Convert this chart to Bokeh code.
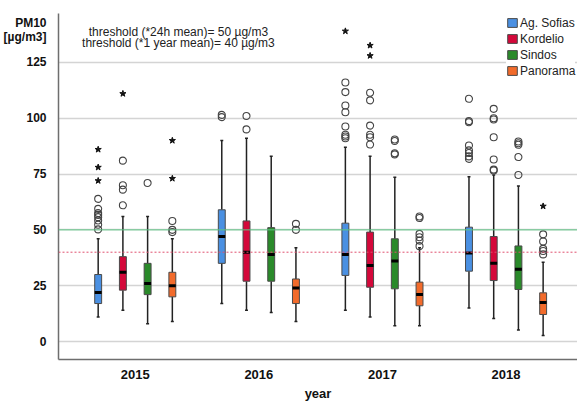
from bokeh.plotting import figure
from bokeh.models import Span, Label, Legend, LegendItem, FixedTicker, ColumnDataSource
from bokeh.embed import file_html
from bokeh.resources import INLINE

years = ["2015", "2016", "2017", "2018"]
stations = ["Ag. Sofias", "Kordelio", "Sindos", "Panorama"]
colors = ["#4a90e2", "#d4083a", "#2a8a2a", "#f26b2b"]

whisker_low = {
    "Ag. Sofias": [11, 17, 14, 15],
    "Kordelio": [14, 14, 11, 10.3],
    "Sindos": [8, 13, 7, 5.2],
    "Panorama": [9, 9, 7, 2.7],
}
q1 = {
    "Ag. Sofias": [17, 35, 29.6, 31.5],
    "Kordelio": [23, 27, 24.3, 27.3],
    "Sindos": [21, 27, 23.6, 23.3],
    "Panorama": [20, 17, 16, 12.1],
}
median = {
    "Ag. Sofias": [22, 47, 39, 39.6],
    "Kordelio": [31, 40, 34, 35],
    "Sindos": [26, 39, 36, 32.4],
    "Panorama": [25, 24, 21, 17.5],
}
q3 = {
    "Ag. Sofias": [30, 59, 53, 51.2],
    "Kordelio": [38, 54, 49, 47],
    "Sindos": [35, 51, 46, 42.8],
    "Panorama": [31, 28, 26.6, 21.8],
}
whisker_high = {
    "Ag. Sofias": [46, 90, 87, 73.8],
    "Kordelio": [56, 91, 83, 74.6],
    "Sindos": [56, 83, 73.6, 69.6],
    "Panorama": [46, 42, 42, 35.5],
}
# outliers (circles) per station, per year
outliers = {
    "Ag. Sofias": [[63.9, 59.4, 57.5, 56.7, 55.7, 54.2, 52.3, 50.2],
                   [101.5, 100.5],
                   [116, 111.7, 105.7, 102.7, 96.3, 92.6, 91.8, 91],
                   [108.7, 98.7, 98.2, 87.8, 85.6, 84.4, 82.9, 81.8]],
    "Kordelio": [[81, 70, 68, 61],
                 [101, 95],
                 [111.4, 108, 96.7, 92.6, 91.5, 88.2],
                 [104.2, 100, 99.4, 91.5, 81.5, 77, 76.6]],
    "Sindos": [[71],
               [],
               [90.5, 89.8, 84.3, 83.8],
               [89.6, 88.8, 88.1, 82.6, 74.6]],
    "Panorama": [[54, 50, 49],
                 [52.7, 50],
                 [56, 55.3, 48.2, 46.7, 45.2, 42.7],
                 [48, 44.8, 41.5, 40.5, 39]],
}
# extreme values (stars)
extremes = {
    "Ag. Sofias": [[86, 78, 72], [], [139], []],
    "Kordelio": [[111], [], [132.6, 128], []],
    "Sindos": [[], [], [], []],
    "Panorama": [[90, 73], [], [], [60.6]],
}

threshold_24h = 50
threshold_year = 40
y_ticks = [0, 25, 50, 75, 100, 125]
y_title = "PM10\n[µg/m3]"
y_title_pos = 139.5

offsets = [-0.3, -0.1, 0.1, 0.3]
box_w = 0.056
cap_w = 0.012

FONT = "Liberation Sans"

p = figure(width=577, height=404, x_range=(-0.621, 3.578), y_range=(-8.06, 146.9),
           output_backend="svg", toolbar_location=None,
           min_border_left=53, min_border_right=0, min_border_top=13, min_border_bottom=45)
p.outline_line_color = None
p.background_fill_color = "white"

p.xgrid.grid_line_color = None
p.ygrid.ticker = FixedTicker(ticks=y_ticks)
p.ygrid.grid_line_color = "#d4d4d4"
p.ygrid.grid_line_width = 1.5
p.yaxis.ticker = FixedTicker(ticks=y_ticks + [y_title_pos])
p.yaxis.major_label_overrides = {y_title_pos: y_title}
p.xaxis.ticker = FixedTicker(ticks=[0, 1, 2, 3])
p.xaxis.major_label_overrides = {i: y for i, y in enumerate(years)}

for ax in (p.xaxis[0], p.yaxis[0]):
    ax.major_tick_line_color = None
    ax.minor_tick_line_color = None
    ax.axis_line_color = "#6e6e6e"
    ax.axis_line_width = 1.5
    ax.major_label_text_font = FONT
    ax.major_label_text_font_style = "bold"
    ax.major_label_text_color = "#111111"

p.yaxis.major_label_text_font_size = "12px"
p.yaxis.major_label_text_line_height = 1.0
p.yaxis.major_label_standoff = 6
p.xaxis.major_label_text_font_size = "13px"
p.xaxis.major_label_standoff = 4
p.xaxis.axis_label = "year"
p.xaxis.axis_label_text_font = FONT
p.xaxis.axis_label_text_font_style = "bold"
p.xaxis.axis_label_text_font_size = "13px"
p.xaxis.axis_label_text_color = "#111111"
p.xaxis.axis_label_standoff = 4

legend_items = []
for si, st in enumerate(stations):
    xs = [i + offsets[si] for i in range(len(years))]
    src = ColumnDataSource(dict(
        x=xs, lo=whisker_low[st], q1=q1[st], med=median[st], q3=q3[st], hi=whisker_high[st],
        xl=[x - box_w / 2 for x in xs], xr=[x + box_w / 2 for x in xs],
        cl=[x - cap_w for x in xs], cr=[x + cap_w for x in xs],
    ))
    p.segment(x0="x", y0="q3", x1="x", y1="hi", source=src, line_color="#222222", line_width=1.5)
    p.segment(x0="x", y0="lo", x1="x", y1="q1", source=src, line_color="#222222", line_width=1.5)
    p.segment(x0="cl", y0="hi", x1="cr", y1="hi", source=src, line_color="#222222", line_width=1.5)
    p.segment(x0="cl", y0="lo", x1="cr", y1="lo", source=src, line_color="#222222", line_width=1.5)
    r = p.vbar(x="x", width=box_w, bottom="q1", top="q3", source=src,
               fill_color=colors[si], line_color="#4a4a4a", line_width=1)
    p.segment(x0="xl", y0="med", x1="xr", y1="med", source=src, line_color="black", line_width=3)
    legend_items.append(LegendItem(label=st, renderers=[r]))

    ox, oy, sx, sy = [], [], [], []
    for yi in range(len(years)):
        for v in outliers[st][yi]:
            ox.append(yi + offsets[si]); oy.append(v)
        for v in extremes[st][yi]:
            sx.append(yi + offsets[si]); sy.append(v)
    p.scatter(ox, oy, marker="circle", size=7, fill_color=None, line_color="#444444", line_width=1.1)
    if sx:
        p.scatter(sx, sy, marker="star", size=6.5, fill_color="#111111", line_color="#111111")

p.add_layout(Span(location=threshold_24h, dimension="width", line_color="#5fc585", line_width=1))
p.add_layout(Span(location=threshold_year, dimension="width", line_color="#e0506e",
                  line_width=1, line_dash="2 2"))

p.add_layout(Label(x=0.349, y=138.4, text="threshold (*24h mean)= 50 µg/m3", text_align="center",
                   text_baseline="middle", text_font=FONT, text_font_size="12px", text_color="#222222"))
p.add_layout(Label(x=0.349, y=133.5, text="threshold (*1 year mean)= 40 µg/m3", text_align="center",
                   text_baseline="middle", text_font=FONT, text_font_size="12px", text_color="#222222"))

legend = Legend(items=legend_items, location=(448, 281), orientation="vertical",
                label_text_font=FONT, label_text_font_size="12px", label_text_color="#222222",
                glyph_width=12, glyph_height=11, label_height=15, label_standoff=2,
                spacing=1, padding=0, margin=0, border_line_color=None,
                background_fill_color="white", background_fill_alpha=1)
p.add_layout(legend)

open("out.html", "w").write(file_html(p, INLINE))
